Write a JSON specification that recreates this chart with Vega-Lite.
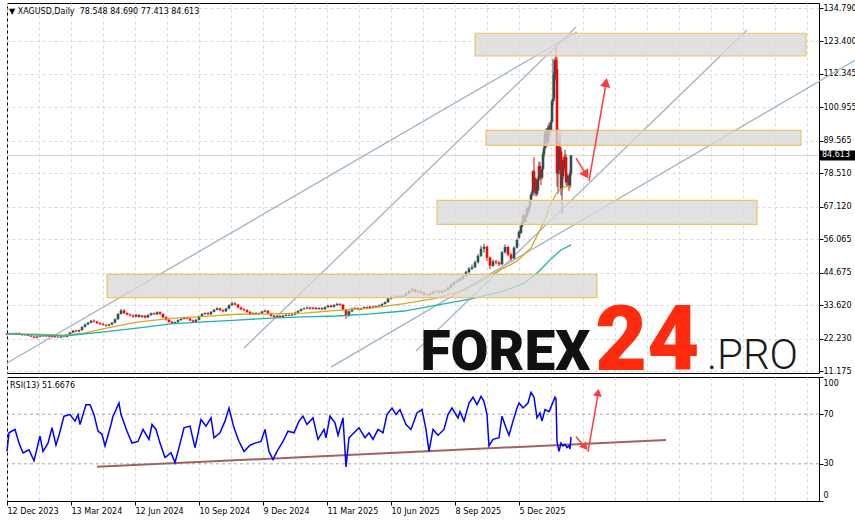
{
"$schema": "https://vega.github.io/schema/vega-lite/v6.json",
"background": "white",
"padding": {"left": 3, "top": 2, "right": 0, "bottom": 0},
"spacing": 4,
"bounds": "flush",
"config": {
  "view": {"stroke": "black", "strokeWidth": 1},
  "concat": {"spacing": 4},
  "axis": {"labelFont": "DejaVu Sans", "labelFontSize": 8, "labelColor": "#000000", "tickColor": "#000000", "domain": false, "gridColor": "#d9d9d9", "gridDash": [3, 3], "gridWidth": 1, "labelOverlap": false, "labelBound": false, "title": null}
},
"datasets": {
  "candles": [
{"b":0,"o":23.9,"h":24.1,"l":23.4,"c":23.6},{"b":3,"o":23.6,"h":24.2,"l":23.5,"c":24.0},{"b":6,"o":24.0,"h":24.2,"l":23.6,"c":23.8},{"b":9,"o":23.8,"h":24.3,"l":23.6,"c":24.1},
{"b":12,"o":24.1,"h":24.3,"l":23.5,"c":23.7},{"b":15,"o":23.7,"h":23.9,"l":23.2,"c":23.4},{"b":18,"o":23.4,"h":23.7,"l":23.2,"c":23.5},{"b":21,"o":23.5,"h":23.7,"l":23.0,"c":23.2},
{"b":24,"o":23.2,"h":23.4,"l":22.7,"c":22.9},{"b":27,"o":22.9,"h":23.0,"l":22.3,"c":22.5},{"b":30,"o":22.5,"h":23.1,"l":22.3,"c":22.9},{"b":33,"o":22.9,"h":23.3,"l":22.7,"c":23.1},
{"b":36,"o":23.1,"h":23.3,"l":22.8,"c":23.0},{"b":39,"o":23.0,"h":23.4,"l":22.8,"c":23.2},{"b":42,"o":23.2,"h":23.4,"l":22.7,"c":22.9},{"b":45,"o":22.9,"h":23.3,"l":22.7,"c":23.1},
{"b":48,"o":23.1,"h":23.3,"l":22.5,"c":22.7},{"b":51,"o":22.7,"h":22.9,"l":22.4,"c":22.6},{"b":54,"o":22.6,"h":23.1,"l":22.4,"c":22.9},{"b":57,"o":22.9,"h":23.1,"l":22.6,"c":22.8},
{"b":60,"o":22.8,"h":23.8,"l":22.6,"c":23.6},{"b":63,"o":23.6,"h":24.5,"l":23.4,"c":24.3},{"b":66,"o":24.3,"h":25.1,"l":24.1,"c":24.9},{"b":69,"o":24.9,"h":25.2,"l":24.4,"c":24.6},
{"b":72,"o":24.6,"h":25.3,"l":24.4,"c":25.1},{"b":75,"o":25.1,"h":26.4,"l":24.9,"c":26.2},{"b":78,"o":26.2,"h":27.3,"l":26.0,"c":27.0},{"b":81,"o":27.0,"h":27.9,"l":26.8,"c":27.6},
{"b":84,"o":27.6,"h":28.6,"l":27.4,"c":28.3},{"b":87,"o":28.3,"h":28.7,"l":27.7,"c":28.0},{"b":90,"o":28.0,"h":28.3,"l":27.2,"c":27.5},{"b":93,"o":27.5,"h":27.8,"l":26.9,"c":27.2},
{"b":96,"o":27.2,"h":27.5,"l":26.6,"c":26.9},{"b":99,"o":26.9,"h":27.1,"l":26.3,"c":26.6},{"b":102,"o":26.6,"h":27.3,"l":26.4,"c":27.0},{"b":105,"o":27.0,"h":27.9,"l":26.8,"c":27.6},
{"b":108,"o":27.6,"h":29.1,"l":27.4,"c":28.8},{"b":111,"o":28.8,"h":30.9,"l":28.6,"c":30.6},{"b":114,"o":30.6,"h":32.3,"l":30.4,"c":31.8},{"b":117,"o":31.8,"h":32.2,"l":30.6,"c":30.9},
{"b":120,"o":30.9,"h":31.2,"l":30.1,"c":30.4},{"b":123,"o":30.4,"h":30.8,"l":29.8,"c":30.1},{"b":126,"o":30.1,"h":30.4,"l":29.4,"c":29.7},{"b":129,"o":29.7,"h":30.6,"l":29.5,"c":30.3},
{"b":132,"o":30.3,"h":30.5,"l":29.3,"c":29.6},{"b":135,"o":29.6,"h":30.3,"l":29.3,"c":30.0},{"b":138,"o":30.0,"h":30.2,"l":29.1,"c":29.4},{"b":141,"o":29.4,"h":30.5,"l":29.2,"c":30.2},
{"b":144,"o":30.2,"h":31.1,"l":30.0,"c":30.8},{"b":147,"o":30.8,"h":31.1,"l":30.2,"c":30.5},{"b":150,"o":30.5,"h":31.5,"l":30.3,"c":31.2},{"b":153,"o":31.2,"h":31.5,"l":30.3,"c":30.6},
{"b":156,"o":30.6,"h":30.8,"l":29.2,"c":29.5},{"b":159,"o":29.5,"h":29.8,"l":28.3,"c":28.6},{"b":162,"o":28.6,"h":28.9,"l":27.6,"c":27.9},{"b":165,"o":27.9,"h":28.2,"l":27.1,"c":27.4},
{"b":168,"o":27.4,"h":28.1,"l":27.1,"c":27.8},{"b":171,"o":27.8,"h":28.8,"l":27.6,"c":28.5},{"b":174,"o":28.5,"h":29.2,"l":28.3,"c":28.9},{"b":177,"o":28.9,"h":29.7,"l":28.7,"c":29.4},
{"b":180,"o":29.4,"h":29.7,"l":28.8,"c":29.0},{"b":183,"o":29.0,"h":29.3,"l":28.1,"c":28.4},{"b":186,"o":28.4,"h":28.7,"l":27.6,"c":27.9},{"b":189,"o":27.9,"h":28.9,"l":27.7,"c":28.6},
{"b":192,"o":28.6,"h":30.1,"l":28.4,"c":29.8},{"b":195,"o":29.8,"h":30.9,"l":29.6,"c":30.6},{"b":198,"o":30.6,"h":31.2,"l":30.3,"c":30.9},{"b":201,"o":30.9,"h":31.2,"l":30.2,"c":30.5},
{"b":204,"o":30.5,"h":31.6,"l":30.3,"c":31.3},{"b":207,"o":31.3,"h":32.3,"l":31.1,"c":32.0},{"b":210,"o":32.0,"h":32.9,"l":31.8,"c":32.5},{"b":213,"o":32.5,"h":32.8,"l":31.6,"c":31.9},
{"b":216,"o":31.9,"h":32.2,"l":31.2,"c":31.5},{"b":219,"o":31.5,"h":32.7,"l":31.3,"c":32.4},{"b":222,"o":32.4,"h":33.9,"l":32.2,"c":33.6},{"b":225,"o":33.6,"h":34.8,"l":33.4,"c":34.2},
{"b":228,"o":34.2,"h":34.6,"l":33.5,"c":33.8},{"b":231,"o":33.8,"h":34.0,"l":32.5,"c":32.8},{"b":234,"o":32.8,"h":33.1,"l":31.9,"c":32.2},{"b":237,"o":32.2,"h":32.5,"l":31.6,"c":31.9},
{"b":240,"o":31.9,"h":32.2,"l":31.0,"c":31.3},{"b":243,"o":31.3,"h":31.6,"l":30.2,"c":30.6},{"b":246,"o":30.6,"h":31.2,"l":30.3,"c":30.9},{"b":249,"o":30.9,"h":31.2,"l":30.2,"c":30.5},
{"b":252,"o":30.5,"h":31.1,"l":30.2,"c":30.8},{"b":255,"o":30.8,"h":31.7,"l":30.6,"c":31.4},{"b":258,"o":31.4,"h":32.1,"l":31.2,"c":31.7},{"b":261,"o":31.7,"h":31.9,"l":30.5,"c":30.8},
{"b":264,"o":30.8,"h":31.0,"l":29.7,"c":30.0},{"b":267,"o":30.0,"h":30.3,"l":29.3,"c":29.6},{"b":270,"o":29.6,"h":30.2,"l":29.3,"c":29.9},{"b":273,"o":29.9,"h":30.2,"l":29.2,"c":29.5},
{"b":276,"o":29.5,"h":30.3,"l":29.3,"c":30.0},{"b":279,"o":30.0,"h":30.6,"l":29.8,"c":30.3},{"b":282,"o":30.3,"h":30.6,"l":29.8,"c":30.1},{"b":285,"o":30.1,"h":30.7,"l":29.9,"c":30.4},
{"b":288,"o":30.4,"h":31.3,"l":30.2,"c":31.0},{"b":291,"o":31.0,"h":31.9,"l":30.8,"c":31.6},{"b":294,"o":31.6,"h":32.5,"l":31.4,"c":32.2},{"b":297,"o":32.2,"h":32.8,"l":32.0,"c":32.5},
{"b":300,"o":32.5,"h":33.1,"l":32.2,"c":32.8},{"b":303,"o":32.8,"h":33.1,"l":32.1,"c":32.4},{"b":306,"o":32.4,"h":33.0,"l":32.1,"c":32.7},{"b":309,"o":32.7,"h":33.0,"l":32.0,"c":32.3},
{"b":312,"o":32.3,"h":32.9,"l":32.0,"c":32.6},{"b":315,"o":32.6,"h":32.9,"l":31.9,"c":32.2},{"b":318,"o":32.2,"h":33.2,"l":32.0,"c":32.9},{"b":321,"o":32.9,"h":33.7,"l":32.7,"c":33.4},
{"b":324,"o":33.4,"h":33.7,"l":32.7,"c":33.0},{"b":327,"o":33.0,"h":33.9,"l":32.8,"c":33.6},{"b":330,"o":33.6,"h":34.4,"l":33.4,"c":34.0},{"b":333,"o":34.0,"h":34.3,"l":33.4,"c":33.7},
{"b":336,"o":33.7,"h":34.0,"l":31.8,"c":32.1},{"b":339,"o":32.1,"h":32.3,"l":28.9,"c":30.0},{"b":342,"o":30.0,"h":31.8,"l":29.6,"c":31.5},{"b":345,"o":31.5,"h":32.7,"l":31.3,"c":32.4},
{"b":348,"o":32.4,"h":33.0,"l":32.2,"c":32.6},{"b":351,"o":32.6,"h":32.9,"l":31.8,"c":32.1},{"b":354,"o":32.1,"h":32.8,"l":31.9,"c":32.5},{"b":357,"o":32.5,"h":33.2,"l":32.3,"c":32.9},
{"b":360,"o":32.9,"h":33.2,"l":32.3,"c":32.6},{"b":363,"o":32.6,"h":33.4,"l":32.4,"c":33.1},{"b":366,"o":33.1,"h":33.4,"l":32.5,"c":32.8},{"b":369,"o":32.8,"h":33.5,"l":32.6,"c":33.2},
{"b":372,"o":33.2,"h":33.8,"l":33.0,"c":33.5},{"b":375,"o":33.5,"h":34.3,"l":33.3,"c":34.0},{"b":378,"o":34.0,"h":34.9,"l":33.8,"c":34.6},{"b":381,"o":34.6,"h":36.1,"l":34.4,"c":35.8},
{"b":384,"o":35.8,"h":36.8,"l":35.6,"c":36.4},{"b":387,"o":36.4,"h":36.8,"l":35.9,"c":36.2},{"b":390,"o":36.2,"h":37.0,"l":36.0,"c":36.6},{"b":393,"o":36.6,"h":36.9,"l":36.0,"c":36.3},
{"b":396,"o":36.3,"h":37.1,"l":36.1,"c":36.8},{"b":399,"o":36.8,"h":37.8,"l":36.6,"c":37.5},{"b":402,"o":37.5,"h":38.7,"l":37.3,"c":38.4},{"b":405,"o":38.4,"h":39.4,"l":38.2,"c":38.9},
{"b":408,"o":38.9,"h":39.2,"l":37.8,"c":38.1},{"b":411,"o":38.1,"h":38.7,"l":37.8,"c":38.3},{"b":414,"o":38.3,"h":38.6,"l":37.5,"c":37.8},{"b":417,"o":37.8,"h":38.1,"l":36.9,"c":37.2},
{"b":420,"o":37.2,"h":37.6,"l":36.7,"c":37.0},{"b":423,"o":37.0,"h":37.8,"l":36.8,"c":37.5},{"b":426,"o":37.5,"h":38.4,"l":37.3,"c":38.1},{"b":429,"o":38.1,"h":38.7,"l":37.9,"c":38.3},
{"b":432,"o":38.3,"h":38.6,"l":37.6,"c":37.9},{"b":435,"o":37.9,"h":38.7,"l":37.7,"c":38.4},{"b":438,"o":38.4,"h":39.1,"l":38.2,"c":38.7},{"b":441,"o":38.7,"h":39.9,"l":38.5,"c":39.5},
{"b":444,"o":39.5,"h":41.0,"l":39.3,"c":40.6},{"b":447,"o":40.6,"h":41.8,"l":40.3,"c":41.4},{"b":450,"o":41.4,"h":42.4,"l":41.1,"c":41.9},{"b":453,"o":41.9,"h":43.1,"l":41.6,"c":42.6},
{"b":456,"o":42.6,"h":44.0,"l":42.3,"c":43.5},{"b":459,"o":43.5,"h":45.3,"l":43.2,"c":44.8},{"b":462,"o":44.8,"h":46.6,"l":44.5,"c":46.0},{"b":465,"o":46.0,"h":47.4,"l":45.6,"c":46.5},
{"b":468,"o":46.5,"h":48.8,"l":46.2,"c":48.2},{"b":471,"o":48.2,"h":51.0,"l":47.8,"c":50.4},{"b":474,"o":50.4,"h":53.8,"l":50.0,"c":52.8},{"b":477,"o":52.8,"h":54.5,"l":51.5,"c":53.5},
{"b":480,"o":53.5,"h":53.8,"l":48.6,"c":49.8},{"b":483,"o":49.8,"h":50.2,"l":45.9,"c":47.0},{"b":486,"o":47.0,"h":49.2,"l":46.6,"c":48.5},{"b":489,"o":48.5,"h":49.0,"l":47.5,"c":48.1},
{"b":492,"o":48.1,"h":48.6,"l":46.9,"c":47.5},{"b":495,"o":47.5,"h":52.0,"l":47.2,"c":51.6},{"b":498,"o":51.6,"h":54.3,"l":51.2,"c":53.4},{"b":501,"o":53.4,"h":53.8,"l":50.3,"c":50.8},
{"b":504,"o":50.8,"h":51.4,"l":48.7,"c":49.5},{"b":507,"o":49.5,"h":53.6,"l":49.3,"c":53.2},{"b":510,"o":53.2,"h":56.4,"l":52.9,"c":55.8},
{"b":512,"o":56.5,"h":59.2,"l":56.3,"c":58.5},{"b":513,"o":58.5,"h":58.9,"l":57.6,"c":58.2},{"b":514,"o":58.2,"h":60.8,"l":58.0,"c":60.5},{"b":515,"o":60.5,"h":62.0,"l":60.0,"c":61.6},
{"b":516,"o":61.6,"h":64.6,"l":61.3,"c":64.0},{"b":517,"o":64.0,"h":64.5,"l":61.5,"c":62.0},{"b":518,"o":62.0,"h":64.4,"l":61.8,"c":64.0},{"b":519,"o":64.0,"h":65.0,"l":62.5,"c":63.8},
{"b":520,"o":63.8,"h":66.9,"l":63.5,"c":66.5},{"b":521,"o":66.5,"h":67.0,"l":64.8,"c":65.6},{"b":522,"o":65.6,"h":67.6,"l":65.2,"c":67.1},{"b":523,"o":67.1,"h":69.4,"l":66.8,"c":69.0},
{"b":524,"o":69.0,"h":71.6,"l":68.8,"c":71.2},{"b":525,"o":71.2,"h":72.8,"l":70.5,"c":72.0},{"b":526,"o":72.0,"h":79.6,"l":71.8,"c":79.2},{"b":527,"o":79.2,"h":84.0,"l":70.8,"c":72.5},
{"b":528,"o":72.5,"h":77.2,"l":72.0,"c":76.5},{"b":529,"o":76.5,"h":77.0,"l":70.6,"c":71.5},{"b":530,"o":71.5,"h":74.5,"l":70.8,"c":72.8},{"b":531,"o":72.8,"h":77.4,"l":72.5,"c":76.5},
{"b":532,"o":76.5,"h":82.5,"l":76.0,"c":81.0},{"b":533,"o":81.0,"h":82.3,"l":76.2,"c":78.0},{"b":534,"o":78.0,"h":79.5,"l":74.5,"c":77.0},{"b":535,"o":77.0,"h":80.6,"l":76.5,"c":80.0},
{"b":536,"o":80.0,"h":85.8,"l":79.6,"c":85.0},{"b":537,"o":85.0,"h":89.2,"l":84.0,"c":87.0},{"b":538,"o":87.0,"h":93.0,"l":86.5,"c":92.0},{"b":539,"o":92.0,"h":93.8,"l":89.8,"c":92.5},
{"b":540,"o":92.5,"h":93.5,"l":87.5,"c":89.0},{"b":541,"o":89.0,"h":94.8,"l":88.6,"c":94.0},{"b":542,"o":94.0,"h":95.8,"l":92.2,"c":94.5},{"b":543,"o":94.5,"h":95.3,"l":91.0,"c":93.0},
{"b":544,"o":93.0,"h":96.6,"l":92.5,"c":96.0},{"b":545,"o":96.0,"h":103.5,"l":95.6,"c":103.0},{"b":546,"o":103.0,"h":117.5,"l":101.5,"c":104.0},{"b":547,"o":104.0,"h":113.0,"l":103.0,"c":112.0},
{"b":548,"o":112.0,"h":118.0,"l":110.5,"c":117.0},{"b":549,"o":117.0,"h":121.6,"l":110.0,"c":114.0},{"b":550,"o":114.0,"h":118.0,"l":74.0,"c":78.5},{"b":551,"o":78.5,"h":83.0,"l":71.5,"c":79.5},
{"b":552,"o":79.5,"h":89.0,"l":78.0,"c":87.5},{"b":553,"o":87.5,"h":92.0,"l":83.0,"c":86.0},{"b":554,"o":86.0,"h":87.0,"l":71.0,"c":73.0},{"b":555,"o":73.0,"h":78.0,"l":64.5,"c":77.5},
{"b":556,"o":77.5,"h":84.0,"l":76.5,"c":83.0},{"b":557,"o":83.0,"h":84.5,"l":79.0,"c":80.5},{"b":558,"o":80.5,"h":86.5,"l":80.0,"c":84.0},{"b":559,"o":84.0,"h":85.0,"l":74.5,"c":75.5},
{"b":560,"o":75.5,"h":78.5,"l":74.0,"c":77.5},{"b":561,"o":77.5,"h":78.0,"l":74.0,"c":76.5},{"b":562,"o":76.5,"h":77.5,"l":72.5,"c":74.0},{"b":563,"o":74.0,"h":79.5,"l":73.5,"c":78.548},
{"b":564,"o":78.548,"h":84.69,"l":77.413,"c":84.613}
  ],
  "ma1": [
{"b":0,"v":23.8},{"b":27,"v":23.7},{"b":57,"v":23.4},{"b":77,"v":24.1},{"b":97,"v":25.6},{"b":130,"v":27.8},{"b":164,"v":29.1},{"b":197,"v":29.8},{"b":230,"v":30.5},{"b":264,"v":30.6},{"b":297,"v":30.9},{"b":330,"v":31.8},{"b":364,"v":32.6},{"b":397,"v":34.1},{"b":427,"v":35.8},{"b":457,"v":38.6},{"b":470,"v":41.0},{"b":487,"v":44.4},{"b":510,"v":48.6},{"b":524,"v":53.1},{"b":537,"v":62.0},{"b":544,"v":68.2},{"b":550,"v":72.0},{"b":557,"v":73.8},{"b":564,"v":74.2}
  ],
  "ma2": [
{"b":0,"v":23.8},{"b":57,"v":23.1},{"b":97,"v":24.5},{"b":130,"v":25.8},{"b":164,"v":27.2},{"b":197,"v":27.9},{"b":230,"v":28.5},{"b":264,"v":29.2},{"b":297,"v":29.6},{"b":330,"v":29.9},{"b":364,"v":30.6},{"b":397,"v":31.6},{"b":430,"v":33.6},{"b":464,"v":35.7},{"b":497,"v":38.4},{"b":517,"v":41.1},{"b":530,"v":44.5},{"b":544,"v":49.3},{"b":554,"v":52.4},{"b":564,"v":54.1}
  ],
  "trend": [
{"b1":0,"p1":13.9,"b2":570,"p2":126.6},{"b1":237,"p1":19.0,"b2":569,"p2":128.3},{"b1":409,"p1":18.0,"b2":740,"p2":127.3},{"b1":324,"p1":12.5,"b2":852,"p2":117.8}
  ],
  "zones": [
{"b1":468,"p1":126.2,"b2":799,"p2":118.45},{"b1":479,"p1":93.14,"b2":794,"p2":88.04},{"b1":430,"p1":69.3,"b2":750,"p2":61.13},{"b1":100,"p1":44.1,"b2":590,"p2":36.14}
  ],
  "arrows": [
{"b1":569,"p1":83.7,"b2":580,"p2":77.6},{"b1":582,"p1":75.9,"b2":599,"p2":109.0}
  ],
  "heads": [
{"b":579,"p":78.0,"a":148},{"b":599,"p":109.4,"a":10}
  ],
  "bid": [{"p": 84.613}],
  "hdr": [{"b": 2, "p": 133.43, "t": "▼ XAGUSD,Daily\u00a0\u00a078.548 84.690 77.413 84.613"}],
  "wm1": [{"b": 413.5, "p": 11.51, "t": "FOREX"}],
  "wm2": [{"b": 588, "p": 11.51, "t": "24"}],
  "wm3": [{"b": 700, "p": 11.85, "t": ".PRO"}],
  "pbox": [{"b1": 813, "b2": 849, "p1": 86.26, "p2": 82.86}],
  "ptxt": [{"b": 815, "p": 84.613, "t": "84.613"}],
  "rsi": [
{"b":0,"r":40},{"b":2,"r":55},{"b":8,"r":57.7},{"b":12,"r":46.7},{"b":16,"r":38.7},{"b":22,"r":41.3},{"b":27,"r":32.4},{"b":33,"r":52.4},{"b":36,"r":40},{"b":41,"r":46.7},{"b":45,"r":59.1},{"b":49,"r":45},{"b":52,"r":53},{"b":57,"r":68.4},{"b":63,"r":69.7},{"b":68,"r":64.4},{"b":71,"r":69.7},{"b":73,"r":61.7},{"b":79,"r":77.7},{"b":83,"r":77.7},{"b":87,"r":69.7},{"b":91,"r":56.3},{"b":95,"r":53.8},{"b":98,"r":44.4},{"b":104,"r":61.7},{"b":106,"r":68.4},{"b":112,"r":79},{"b":114,"r":69.7},{"b":120,"r":56.3},{"b":125,"r":46.7},{"b":131,"r":48},{"b":136,"r":57.7},{"b":142,"r":49.7},{"b":145,"r":61.7},{"b":149,"r":57.7},{"b":153,"r":46.7},{"b":158,"r":35},{"b":164,"r":39},{"b":168,"r":31},{"b":172,"r":43},{"b":177,"r":59},{"b":183,"r":60.4},{"b":188,"r":43},{"b":194,"r":65.7},{"b":199,"r":60.4},{"b":204,"r":67},{"b":207,"r":51},{"b":213,"r":55},{"b":218,"r":64.4},{"b":222,"r":75},{"b":227,"r":59},{"b":232,"r":48},{"b":237,"r":40},{"b":243,"r":45},{"b":248,"r":46.7},{"b":254,"r":48},{"b":258,"r":57.7},{"b":262,"r":40},{"b":266,"r":33.4},{"b":270,"r":40},{"b":276,"r":48},{"b":281,"r":56.3},{"b":287,"r":55},{"b":292,"r":64.4},{"b":296,"r":68.4},{"b":300,"r":61.7},{"b":306,"r":67},{"b":311,"r":49.7},{"b":317,"r":57.7},{"b":319,"r":51},{"b":323,"r":68.4},{"b":328,"r":63},{"b":331,"r":53},{"b":336,"r":67},{"b":339,"r":27.5},{"b":342,"r":51},{"b":347,"r":55},{"b":352,"r":59},{"b":358,"r":51},{"b":362,"r":55},{"b":366,"r":49.7},{"b":371,"r":57.7},{"b":376,"r":55},{"b":380,"r":69.7},{"b":385,"r":75},{"b":389,"r":69.7},{"b":393,"r":73.7},{"b":399,"r":61.7},{"b":404,"r":57.7},{"b":410,"r":71},{"b":415,"r":73.7},{"b":419,"r":57.7},{"b":422,"r":40},{"b":426,"r":57.7},{"b":431,"r":53},{"b":437,"r":57.7},{"b":441,"r":69.7},{"b":445,"r":75},{"b":451,"r":67},{"b":453,"r":72},{"b":457,"r":64.4},{"b":462,"r":79},{"b":466,"r":83.7},{"b":470,"r":77.7},{"b":474,"r":84.4},{"b":477,"r":80.4},{"b":480,"r":69.7},{"b":482,"r":44.4},{"b":486,"r":49.7},{"b":492,"r":51},{"b":495,"r":68.4},{"b":499,"r":59},{"b":502,"r":53},{"b":506,"r":64.4},{"b":510,"r":75},{"b":512,"r":79},{"b":516,"r":75},{"b":521,"r":79},{"b":524,"r":87.7},{"b":527,"r":83.7},{"b":530,"r":67},{"b":533,"r":71},{"b":535,"r":64.4},{"b":538,"r":73.7},{"b":542,"r":72},{"b":545,"r":77.7},{"b":548,"r":83.7},{"b":549,"r":82.4},{"b":550,"r":48},{"b":552,"r":40},{"b":554,"r":46.7},{"b":556,"r":44.4},{"b":558,"r":45.7},{"b":560,"r":43},{"b":562,"r":44.5},{"b":563,"r":42},{"b":564,"r":51.7}
  ],
  "levels": [{"lv": 70}, {"lv": 30}],
  "rsiTrend": [{"b1": 90, "r1": 27.6, "b2": 659, "r2": 49.2}],
  "rsiArrows": [
{"b1":569,"r1":51.8,"b2":579,"r2":42.5},{"b1":581,"r1":39.6,"b2":591,"r2":86}
  ],
  "rsiHeads": [
{"b":578,"r":43.5,"a":141},{"b":591,"r":87.5,"a":10}
  ],
  "rsiLbl": [{"b": 3, "r": 92.4, "t": "RSI(13) 51.6676"}]
},
"vconcat": [
{
  "width": 812,
  "height": 370,
  "encoding": {
    "x": {"type": "quantitative", "scale": {"domain": [0, 812], "nice": false, "zero": false},
          "axis": {"values": [0,32,64,96,128,160,192,224,256,288,320,352,384,416,448,480,512,544,576,608,640,672,704,736,768,800], "labels": false, "ticks": false, "domain": false, "grid": true, "title": null}},
    "y": {"type": "quantitative", "scale": {"domain": [10.494, 136.493], "nice": false, "zero": false},
          "axis": {"orient": "right", "values": [11.175, 22.23, 33.62, 44.675, 56.065, 67.12, 78.51, 89.565, 100.955, 112.345, 123.4, 134.79], "format": ".3f", "grid": true, "ticks": true, "tickSize": 4, "labelPadding": 0, "labelFlush": false, "labelOverlap": false, "labelBound": false, "domain": false, "title": null}}
  },
  "layer": [
    {"data": {"name": "bid"}, "mark": {"type": "rule", "color": "#d6d6d6", "strokeWidth": 1},
     "encoding": {"y": {"field": "p"}, "x": null}},
    {"data": {"name": "trend"}, "mark": {"type": "rule", "color": "#9fb3c3", "strokeWidth": 1.3},
     "encoding": {"x": {"field": "b1"}, "x2": {"field": "b2"}, "y": {"field": "p1"}, "y2": {"field": "p2"}}},
    {"data": {"name": "candles"}, "mark": {"type": "rule", "strokeWidth": 1},
     "encoding": {"x": {"field": "b"}, "y": {"field": "l"}, "y2": {"field": "h"},
       "color": {"condition": {"test": "datum.c >= datum.o", "value": "#2f4f4f"}, "value": "#ff0000"}}},
    {"data": {"name": "candles"}, "mark": {"type": "rule", "strokeWidth": 2.6},
     "encoding": {"x": {"field": "b"}, "y": {"field": "o"}, "y2": {"field": "c"},
       "color": {"condition": {"test": "datum.c >= datum.o", "value": "#2f4f4f"}, "value": "#ff0000"}}},
    {"data": {"name": "ma1"}, "mark": {"type": "line", "color": "#daa520", "strokeWidth": 1.3},
     "encoding": {"x": {"field": "b"}, "y": {"field": "v"}}},
    {"data": {"name": "ma2"}, "mark": {"type": "line", "color": "#20b2aa", "strokeWidth": 1.3},
     "encoding": {"x": {"field": "b"}, "y": {"field": "v"}}},
    {"data": {"name": "zones"}, "mark": {"type": "rect", "fill": "#d9d9d9", "fillOpacity": 0.78, "stroke": "#f0c36a", "strokeWidth": 1.2},
     "encoding": {"x": {"field": "b1"}, "x2": {"field": "b2"}, "y": {"field": "p1"}, "y2": {"field": "p2"}}},
    {"data": {"name": "arrows"}, "mark": {"type": "rule", "color": "#ff3c3c", "strokeWidth": 1.5},
     "encoding": {"x": {"field": "b1"}, "x2": {"field": "b2"}, "y": {"field": "p1"}, "y2": {"field": "p2"}}},
    {"data": {"name": "heads"}, "mark": {"type": "point", "shape": "triangle-up", "filled": true, "color": "#ff3c3c", "opacity": 1, "size": 110},
     "encoding": {"x": {"field": "b"}, "y": {"field": "p"}, "angle": {"field": "a", "type": "quantitative", "scale": null}}},
    {"data": {"name": "hdr"},
     "mark": {"type": "text", "align": "left", "baseline": "middle", "font": "DejaVu Sans", "fontSize": 8, "color": "#000000"},
     "encoding": {"x": {"field": "b"}, "y": {"field": "p"}, "text": {"field": "t"}}},
    {"data": {"name": "wm1"},
     "mark": {"type": "text", "align": "left", "baseline": "alphabetic", "font": "Roboto", "fontWeight": 900, "fontSize": 55, "color": "#111111"},
     "encoding": {"x": {"field": "b"}, "y": {"field": "p"}, "text": {"field": "t"}}},
    {"data": {"name": "wm2"},
     "mark": {"type": "text", "align": "left", "baseline": "alphabetic", "font": "Roboto", "fontWeight": 900, "fontSize": 90, "color": "#ff2b0e"},
     "encoding": {"x": {"field": "b"}, "y": {"field": "p"}, "text": {"field": "t"}}},
    {"data": {"name": "wm3"},
     "mark": {"type": "text", "align": "left", "baseline": "alphabetic", "font": "Roboto", "fontWeight": 300, "fontSize": 42, "color": "#1a1a1a"},
     "encoding": {"x": {"field": "b"}, "y": {"field": "p"}, "text": {"field": "t"}}},
    {"data": {"name": "pbox"},
     "mark": {"type": "rect", "color": "#000000"},
     "encoding": {"x": {"field": "b1"}, "x2": {"field": "b2"}, "y": {"field": "p1"}, "y2": {"field": "p2"}}},
    {"data": {"name": "ptxt"},
     "mark": {"type": "text", "align": "left", "baseline": "middle", "font": "DejaVu Sans", "fontSize": 8, "color": "#ffffff"},
     "encoding": {"x": {"field": "b"}, "y": {"field": "p"}, "text": {"field": "t"}}}
  ]
},
{
  "width": 812,
  "height": 124,
  "encoding": {
    "x": {"type": "quantitative", "scale": {"domain": [0, 812], "nice": false, "zero": false},
          "axis": {"orient": "bottom", "values": [0,32,64,96,128,160,192,224,256,288,320,352,384,416,448,480,512,544,576,608,640,672,704,736,768,800], "grid": true, "domain": false,
                   "labelExpr": "(datum.value % 64 == 0 && datum.value <= 512) ? ['12 Dec 2023','13 Mar 2024','12 Jun 2024','10 Sep 2024','9 Dec 2024','11 Mar 2025','10 Jun 2025','8 Sep 2025','5 Dec 2025'][datum.value / 64] : ''",
                   "labelAlign": "left", "labelBaseline": "top", "labelPadding": 2, "labelFlush": false, "labelOverlap": false, "labelBound": false, "tickSize": 4,
                   "tickOpacity": {"condition": {"test": "datum.value % 64 == 0 && datum.value <= 512", "value": 1}, "value": 0}, "title": null}},
    "y": {"type": "quantitative", "scale": {"domain": [0, 100], "nice": false, "zero": false},
          "axis": {"orient": "right", "values": [0, 30, 70, 100], "format": "d", "grid": false, "tickSize": 4, "labelPadding": 0, "labelFlush": true, "labelFlushOffset": -2, "labelOverlap": false, "labelBound": false, "domain": false, "title": null}}
  },
  "layer": [
    {"data": {"name": "levels"}, "mark": {"type": "rule", "color": "#a9a9a9", "strokeDash": [3, 3], "strokeWidth": 1},
     "encoding": {"y": {"field": "lv"}, "x": null}},
    {"data": {"name": "rsiTrend"}, "mark": {"type": "rule", "color": "#9e6464", "strokeWidth": 2},
     "encoding": {"x": {"field": "b1"}, "x2": {"field": "b2"}, "y": {"field": "r1"}, "y2": {"field": "r2"}}},
    {"data": {"name": "rsi"}, "mark": {"type": "line", "color": "#0000ff", "strokeWidth": 1.5},
     "encoding": {"x": {"field": "b"}, "y": {"field": "r"}}},
    {"data": {"name": "rsiArrows"}, "mark": {"type": "rule", "color": "#ff3c3c", "strokeWidth": 1.5},
     "encoding": {"x": {"field": "b1"}, "x2": {"field": "b2"}, "y": {"field": "r1"}, "y2": {"field": "r2"}}},
    {"data": {"name": "rsiHeads"}, "mark": {"type": "point", "shape": "triangle-up", "filled": true, "color": "#ff3c3c", "opacity": 1, "size": 80},
     "encoding": {"x": {"field": "b"}, "y": {"field": "r"}, "angle": {"field": "a", "type": "quantitative", "scale": null}}},
    {"data": {"name": "rsiLbl"},
     "mark": {"type": "text", "align": "left", "baseline": "middle", "font": "DejaVu Sans", "fontSize": 8, "color": "#000000"},
     "encoding": {"x": {"field": "b"}, "y": {"field": "r"}, "text": {"field": "t"}}}
  ]
}
]
}
